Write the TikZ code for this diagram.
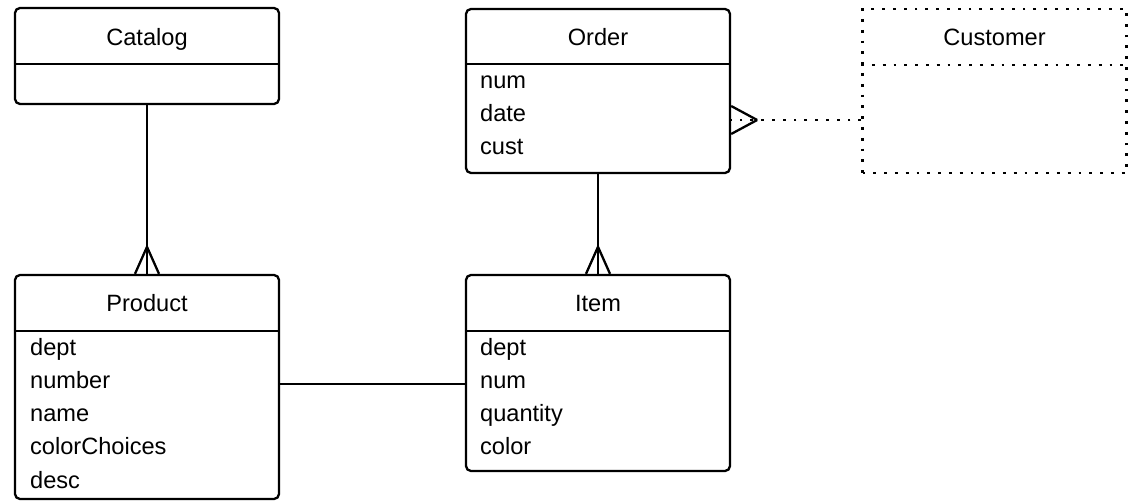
\documentclass[tikz,border=0pt]{standalone}
\usepackage{fontspec}
\setmainfont{Liberation Sans}
\tikzset{
	entity/.style = {draw, rounded corners=2.5pt, minimum width=132pt, inner sep=0pt},
	dots/.style = {line width=1.4pt, dash pattern=on 1.4pt off 4pt},
	ghost/.style = {draw, dots, minimum width=132pt, inner sep=0pt},
	title/.style = {anchor=base, inner sep=0pt},
	attr/.style = {anchor=base west, inner sep=0pt},
}
\begin{document}
\begin{tikzpicture}[x=0.5pt, y=-0.5pt, line width=1.15pt, font=\fontsize{11.8}{14}\selectfont]
	\useasboundingbox (0,0) rectangle (1134,501);
	% boxes
	\node (catalog)  at ( 147,  56)	[entity, minimum height=48pt]	{};
	\node (order)    at ( 598,  91)	[entity, minimum height=82pt]	{};
	\node (customer) at ( 994.5,  91)	[ghost, minimum height=82pt]	{};
	\node (product)  at ( 147, 387)	[entity, minimum height=112pt]	{};
	\node (item)     at ( 598, 373)	[entity, minimum height=98pt]	{};
	% header lines
	\draw (catalog.west |- 0,64) -- (catalog.east |- 0,64);
	\draw (order.west |- 0,64) -- (order.east |- 0,64);
	\draw[dots] (customer.west |- 0,65) -- (customer.east |- 0,65);
	\draw (product.west |- 0,331) -- (product.east |- 0,331);
	\draw (item.west |- 0,331) -- (item.east |- 0,331);
	% titles
	\node (catalog-title)  at ( 147,  46)	[title]	{Catalog};
	\node (order-title)    at ( 598,  46)	[title]	{Order};
	\node (customer-title) at ( 994.5,  46)	[title]	{Customer};
	\node (product-title)  at ( 147, 312)	[title]	{Product};
	\node (item-title)     at ( 598, 312)	[title]	{Item};
	% attributes
	\node (order-num)  at (479,  89)	[attr]	{num};
	\node (order-date) at (479, 122)	[attr]	{date};
	\node (order-cust) at (479, 155)	[attr]	{cust};
	\node (product-dept)   at (29, 356)	[attr]	{dept};
	\node (product-number) at (29, 389)	[attr]	{number};
	\node (product-name)   at (29, 422)	[attr]	{name};
	\node (product-color)  at (29, 455)	[attr]	{colorChoices};
	\node (product-desc)   at (29, 488)	[attr]	{desc};
	\node (item-dept)     at (479, 356)	[attr]	{dept};
	\node (item-num)      at (479, 389)	[attr]	{num};
	\node (item-quantity) at (479, 422)	[attr]	{quantity};
	\node (item-color)    at (479, 455)	[attr]	{color};
	% relations
	\draw (catalog.south) -- (product.north);
	\draw ([yshift=13.5pt]product.north) -- ([xshift=-6pt]product.north);
	\draw ([yshift=13.5pt]product.north) -- ([xshift=6pt]product.north);
	\draw (order.south) -- (item.north);
	\draw ([yshift=13.5pt]item.north) -- ([xshift=-6pt]item.north);
	\draw ([yshift=13.5pt]item.north) -- ([xshift=6pt]item.north);
	\draw (product.east |- 0,384) -- (item.west |- 0,384);
	\draw[dots] (customer.west |- 0,120) -- (order.east |- 0,120);
	\draw ([xshift=13pt]order.east |- 0,120) -- (order.east |- 0,106);
	\draw ([xshift=13pt]order.east |- 0,120) -- (order.east |- 0,134);
\end{tikzpicture}
\end{document}
